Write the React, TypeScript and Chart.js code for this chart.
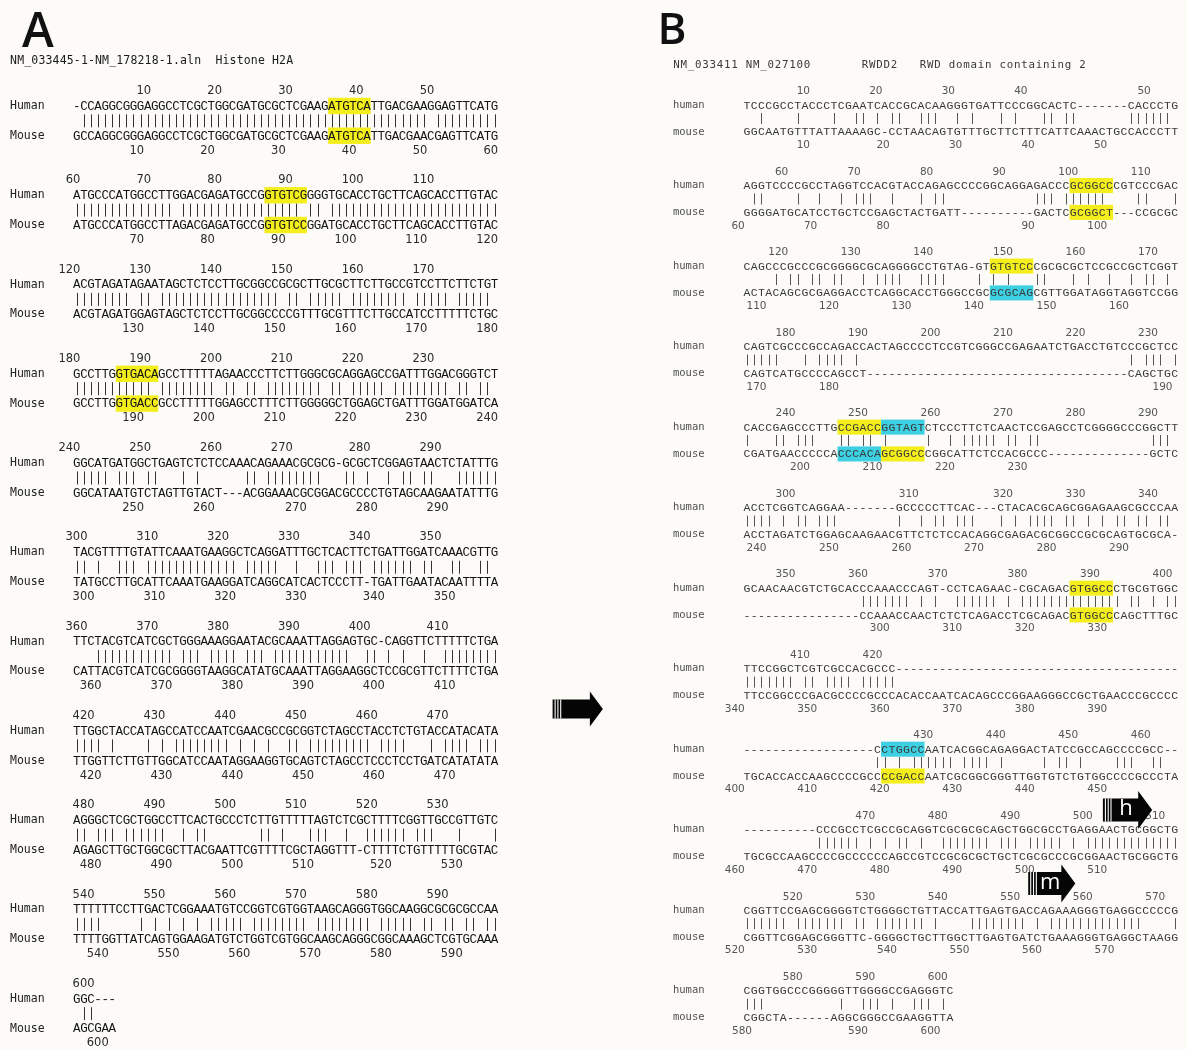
import React, { useEffect, useRef } from "react";
import { Chart, registerables } from "chart.js";

Chart.register(...registerables);

// ---------------- Panel A data ----------------
const letterA = "A";
const titleA = "NM_033445-1-NM_178218-1.aln  Histone H2A";
const namesA = ["Human", "Mouse"];
const humanA = [
  "-CCAGGCGGGAGGCCTCGCTGGCGATGCGCTCGAAGATGTCATTGACGAAGGAGTTCATG",
  "ATGCCCATGGCCTTGGACGAGATGCCGGTGTCGGGGTGCACCTGCTTCAGCACCTTGTAC",
  "ACGTAGATAGAATAGCTCTCCTTGCGGCCGCGCTTGCGCTTCTTGCCGTCCTTCTTCTGT",
  "GCCTTGGTGACAGCCTTTTTAGAACCCTTCTTGGGCGCAGGAGCCGATTTGGACGGGTCT",
  "GGCATGATGGCTGAGTCTCTCCAAACAGAAACGCGCG-GCGCTCGGAGTAACTCTATTTG",
  "TACGTTTTGTATTCAAATGAAGGCTCAGGATTTGCTCACTTCTGATTGGATCAAACGTTG",
  "TTCTACGTCATCGCTGGGAAAGGAATACGCAAATTAGGAGTGC-CAGGTTCTTTTTCTGA",
  "TTGGCTACCATAGCCATCCAATCGAACGCCGCGGTCTAGCCTACCTCTGTACCATACATA",
  "AGGGCTCGCTGGCCTTCACTGCCCTCTTGTTTTTAGTCTCGCTTTTCGGTTGCCGTTGTC",
  "TTTTTTCCTTGACTCGGAAATGTCCGGTCGTGGTAAGCAGGGTGGCAAGGCGCGCGCCAA",
  "GGC---",
];
const mouseA = [
  "GCCAGGCGGGAGGCCTCGCTGGCGATGCGCTCGAAGATGTCATTGACGAACGAGTTCATG",
  "ATGCCCATGGCCTTAGACGAGATGCCGGTGTCCGGATGCACCTGCTTCAGCACCTTGTAC",
  "ACGTAGATGGAGTAGCTCTCCTTGCGGCCCCGTTTGCGTTTCTTGCCATCCTTTTTCTGC",
  "GCCTTGGTGACCGCCTTTTTGGAGCCTTTCTTGGGGGCTGGAGCTGATTTGGATGGATCA",
  "GGCATAATGTCTAGTTGTACT---ACGGAAACGCGGACGCCCCTGTAGCAAGAATATTTG",
  "TATGCCTTGCATTCAAATGAAGGATCAGGCATCACTCCCTT-TGATTGAATACAATTTTA",
  "CATTACGTCATCGCGGGGTAAGGCATATGCAAATTAGGAAGGCTCCGCGTTCTTTTCTGA",
  "TTGGTTCTTGTTGGCATCCAATAGGAAGGTGCAGTCTAGCCTCCCTCCTGATCATATATA",
  "AGAGCTTGCTGGCGCTTACGAATTCGTTTTCGCTAGGTTT-CTTTTCTGTTTTTGCGTAC",
  "TTTTGGTTATCAGTGGAAGATGTCTGGTCGTGGCAAGCAGGGCGGCAAAGCTCGTGCAAA",
  "AGCGAA",
];
// [block, strand (0 human / 1 mouse), first column, length, kind]
const boxesA: [number, number, number, number, string][] = [
  [0, 0, 36, 6, "y"], [0, 1, 36, 6, "y"],
  [1, 0, 27, 6, "y"], [1, 1, 27, 6, "y"],
  [3, 0, 6, 6, "y"], [3, 1, 6, 6, "y"],
];
// [label, from column, to column, line]
const arrowsA: [string, number, number, number][] = [["", 67.7, 74.8, 41.53]];

// ---------------- Panel B data ----------------
const letterB = "B";
const titleB = "NM_033411 NM_027100       RWDD2   RWD domain containing 2";
const namesB = ["human", "mouse"];
const humanB = [
  "TCCCGCCTACCCTCGAATCACCGCACAAGGGTGATTCCCGGCACTC-------CACCCTG",
  "AGGTCCCCGCCTAGGTCCACGTACCAGAGCCCCGGCAGGAGACCCGCGGCCCGTCCCGAC",
  "CAGCCCGCCCGCGGGGCGCAGGGGCCTGTAG-GTGTGTCCCGCGCGCTCCGCCGCTCGGT",
  "CAGTCGCCCGCCAGACCACTAGCCCCTCCGTCGGGCCGAGAATCTGACCTGTCCCGCTCC",
  "CACCGAGCCCTTGCCGACCGGTAGTCTCCCTTCTCAACTCCGAGCCTCGGGGCCCGGCTT",
  "ACCTCGGTCAGGAA-------GCCCCCTTCAC---CTACACGCAGCGGAGAAGCGCCCAA",
  "GCAACAACGTCTGCACCCAAACCCAGT-CCTCAGAAC-CGCAGACGTGGCCCTGCGTGGC",
  "TTCCGGCTCGTCGCCACGCCC" + "----------" + "----------" + "----------" + "---------",
  "------------------" + "C" + "CTGGCC" + "AATCACGGCAGAGGACTATCCGCCAGCCCCGCC" + "--",
  "----------" + "CCCGCCTCGCCGCAGGTCGCGCGCAGCTGGCGCCTGAGGAACTGCGGCTG",
  "CGGTTCCGAGCGGGGTCTGGGGCTGTTACCATTGAGTGACCAGAAAGGGTGAGGCCCCCG",
  "CGGTGGCCCGGGGGTTGGGGCCGAGGGTC",
];
const mouseB = [
  "GGCAATGTTTATTAAAAGC-CCTAACAGTGTTTGCTTCTTTCATTCAAACTGCCACCCTT",
  "GGGGATGCATCCTGCTCCGAGCTACTGATT" + "----------" + "GACTC" + "GCGGCT" + "---" + "CCGCGC",
  "ACTACAGCGCGAGGACCTCAGGCACCTGGGCCGC" + "GCGCAG" + "CGTTGGATAGGTAGGTCCGG",
  "CAGTCATGCCCCAGCCT" + "----------" + "----------" + "----------" + "------" + "CAGCTGC",
  "CGATGAACCCCCA" + "CCCACA" + "GCGGCC" + "CGGCATTCTCCACGCCC" + "--------------" + "GCTC",
  "ACCTAGATCTGGAGCAAGAACGTTCTCTCCACAGGCGAGACGCGGCCGCGCAGTGCGCA-",
  "----------------" + "CCAAACCAACTCTCTCAGACCTCGCAGAC" + "GTGGCC" + "CAGCTTTGC",
  "TTCCGGCCCGACGCCCCGCCCACACCAATCACAGCCCGGAAGGGCCGCTGAACCCGCCCC",
  "TGCACCACCAAGCCCCGCC" + "CCGACC" + "AATCGCGGCGGGTTGGTGTCTGTGGCCCCGCCCTA",
  "TGCGCCAAGCCCCGCCCCCCAGCCGTCCGCGCGCTGCTCGCGCCCGCGGAACTGCGGCTG",
  "CGGTTCGGAGCGGGTTC-GGGGCTGCTTGGCTTGAGTGATCTGAAAGGGTGAGGCTAAGG",
  "CGGCTA------AGGCGGGCCGAAGGTTA",
];
const boxesB: [number, number, number, number, string][] = [
  [1, 0, 45, 6, "y"], [1, 1, 45, 6, "y"],
  [2, 0, 34, 6, "y"], [2, 1, 34, 6, "c"],
  [4, 0, 13, 6, "y"], [4, 0, 19, 6, "c"],
  [4, 1, 13, 6, "c"], [4, 1, 19, 6, "y"],
  [6, 0, 45, 6, "y"], [6, 1, 45, 6, "y"],
  [8, 0, 19, 6, "c"], [8, 1, 19, 6, "y"],
];
const arrowsB: [string, number, number, number][] = [
  ["h", 49.6, 56.4, 53.53],
  ["m", 39.3, 45.8, 59.0],
];

// ---------------- styles ----------------
const BG = "#fcfbf7";
const YELLOW = "#f3ee1c";
const CYAN = "#3dcfe2";

type Panel = {
  letter: string; title: string; names: string[]; human: string[]; mouse: string[];
  boxes: [number, number, number, number, string][]; arrows: [string, number, number, number][];
  xMin: number; xMax: number; yMin: number; yMax: number;
  labelCol: number; letterCol: number; letterLine: number; letterFont: string;
  seqFont: string; seqColor: string; numFont: string; numColor: string; numShift: number;
  nameFont: string; nameColor: string; titleFont: string; titleColor: string;
  barColor: string; barHalf: number; boxHalf: number; bodyH: number; headH: number; headL: number;
};

const panelA: Panel = {
  letter: letterA, title: titleA, names: namesA, human: humanA, mouse: mouseA,
  boxes: boxesA, arrows: arrowsA,
  xMin: -10.353, xMax: 77.218, yMin: -6.122, yMax: 64.375,
  labelCol: -8.94, letterCol: -4.99, letterLine: -3.85, letterFont: "600 48px 'Open Sans'",
  seqFont: "12.5px 'Liberation Mono'", seqColor: "#141414",
  numFont: "11.5px 'DejaVu Sans'", numColor: "#2a2a2a", numShift: 0,
  nameFont: "11.5px 'DejaVu Sans Mono'", nameColor: "#222",
  titleFont: "11.5px 'DejaVu Sans Mono'", titleColor: "#1a1a1a",
  barColor: "#333", barHalf: 6.5, boxHalf: 0.55, bodyH: 19, headH: 35, headL: 13,
};

const panelB: Panel = {
  letter: letterB, title: titleB, names: namesB, human: humanB, mouse: mouseB,
  boxes: boxesB, arrows: arrowsB,
  xMin: -17.007, xMax: 61.2, yMin: -6.826, yMax: 71.341,
  labelCol: -9.7, letterCol: -9.83, letterLine: -4.45, letterFont: "600 44px 'Open Sans'",
  seqFont: "11.5px 'Liberation Mono'", seqColor: "#383838",
  numFont: "10.5px 'DejaVu Sans'", numColor: "#555", numShift: -0.8,
  nameFont: "10.5px 'DejaVu Sans Mono'", nameColor: "#505050",
  titleFont: "10.8px 'DejaVu Sans Mono'", titleColor: "#3a3a3a",
  barColor: "#555", barHalf: 5.5, boxHalf: 0.56, bodyH: 23, headH: 38, headL: 14,
};

function drawPanel(chart: any, P: Panel) {
  const ctx: CanvasRenderingContext2D = chart.ctx;
  const xs = chart.scales.x;
  const ys = chart.scales.y;
  const X = (c: number) => xs.getPixelForValue(c);
  const Y = (l: number) => ys.getPixelForValue(l);
  const pitch = X(1) - X(0);
  ctx.save();
  ctx.textBaseline = "middle";

  // panel letter
  ctx.font = P.letterFont;
  ctx.fillStyle = "#111";
  ctx.textAlign = "center";
  ctx.fillText(P.letter, X(P.letterCol), Y(P.letterLine));

  // title (monospaced pitch)
  ctx.font = P.titleFont;
  ctx.fillStyle = P.titleColor;
  const tx = X(P.labelCol);
  for (let i = 0; i < P.title.length; i++) {
    ctx.fillText(P.title[i], tx + (i + 0.5) * pitch, Y(-2));
  }

  const pos = [0, 0];
  P.human.forEach((hs, k) => {
    const seqs = [hs, P.mouse[k]];
    const base = 6 * k;
    // highlight boxes
    P.boxes.filter((b) => b[0] === k).forEach(([, s, c, n, kind]) => {
      const ln = base + 1 + 2 * s;
      ctx.fillStyle = kind === "y" ? YELLOW : CYAN;
      const y0 = Y(ln - P.boxHalf);
      const y1 = Y(ln + P.boxHalf);
      ctx.fillRect(X(c), y0, X(c + n) - X(c), y1 - y0);
    });
    // names
    ctx.font = P.nameFont;
    ctx.fillStyle = P.nameColor;
    ctx.textAlign = "left";
    ctx.fillText(P.names[0], X(P.labelCol), Y(base + 1));
    ctx.fillText(P.names[1], X(P.labelCol), Y(base + 3));
    // sequences + numbering
    seqs.forEach((seq, s) => {
      const ln = base + 1 + 2 * s;
      const numLine = s === 0 ? base : base + 4;
      ctx.font = P.seqFont;
      ctx.fillStyle = P.seqColor;
      ctx.textAlign = "center";
      for (let c = 0; c < seq.length; c++) {
        ctx.fillText(seq[c], X(c + 0.5), Y(ln) + 0.5);
      }
      ctx.font = P.numFont;
      ctx.fillStyle = P.numColor;
      ctx.textAlign = "right";
      for (let c = 0; c < seq.length; c++) {
        if (seq[c] !== "-") {
          pos[s] += 1;
          if (pos[s] % 10 === 0) {
            ctx.fillText(String(pos[s]), X(c + 1 + P.numShift), Y(numLine));
          }
        }
      }
    });
    // match bars
    ctx.strokeStyle = P.barColor;
    ctx.lineWidth = 1;
    const ml = Y(base + 2);
    const n = Math.min(seqs[0].length, seqs[1].length);
    ctx.beginPath();
    for (let c = 0; c < n; c++) {
      const a = seqs[0][c];
      if (a !== "-" && a === seqs[1][c]) {
        const x = Math.round(X(c + 0.5)) + 0.5;
        ctx.moveTo(x, ml - P.barHalf);
        ctx.lineTo(x, ml + P.barHalf);
      }
    }
    ctx.stroke();
  });

  // arrows
  P.arrows.forEach(([label, c0, c1, ln]) => {
    const x0 = X(c0);
    const x1 = X(c1);
    const yc = Y(ln);
    const bh = P.bodyH / 2;
    const hh = P.headH / 2;
    const hx = x1 - P.headL;
    ctx.fillStyle = "#050505";
    ctx.beginPath();
    ctx.moveTo(x0, yc - bh);
    ctx.lineTo(hx, yc - bh);
    ctx.lineTo(hx, yc - hh);
    ctx.lineTo(x1, yc);
    ctx.lineTo(hx, yc + hh);
    ctx.lineTo(hx, yc + bh);
    ctx.lineTo(x0, yc + bh);
    ctx.closePath();
    ctx.fill();
    ctx.strokeStyle = "#ffffff";
    ctx.lineWidth = 1.1;
    ctx.beginPath();
    [2.5, 5.3, 8.1].forEach((d) => {
      ctx.moveTo(x0 + d, yc - bh);
      ctx.lineTo(x0 + d, yc + bh);
    });
    ctx.stroke();
    if (label) {
      ctx.fillStyle = "#ffffff";
      ctx.font = "500 22px 'Open Sans'";
      ctx.textAlign = "center";
      ctx.fillText(label, (x0 + 9 + hx) / 2 + 1, yc - 1);
    }
  });
  ctx.restore();
}

function PanelChart({ P, left, width }: { P: Panel; left: number; width: number }) {
  const ref = useRef<HTMLCanvasElement | null>(null);
  useEffect(() => {
    if (!ref.current) return;
    const chart = new Chart(ref.current, {
      type: "scatter",
      data: { datasets: [] },
      options: {
        animation: false,
        responsive: false,
        maintainAspectRatio: false,
        devicePixelRatio: 1,
        events: [],
        layout: { padding: 0 },
        plugins: { legend: { display: false }, tooltip: { enabled: false }, title: { display: false } },
        scales: {
          x: { type: "linear", display: false, min: P.xMin, max: P.xMax },
          y: { type: "linear", display: false, reverse: true, min: P.yMin, max: P.yMax },
        },
      },
      plugins: [{ id: "alignment", afterDraw: (c: any) => drawPanel(c, P) }],
    } as any);
    return () => chart.destroy();
  }, [P]);
  return (
    <canvas
      ref={ref}
      width={width}
      height={1049}
      style={{ position: "absolute", left, top: 0, width, height: 1049 }}
    />
  );
}

export default function App() {
  useEffect(() => {
    document.body.style.margin = "0";
    document.body.style.background = BG;
  }, []);
  return (
    <div style={{ position: "relative", width: 1187, height: 1049, background: BG, overflow: "hidden" }}>
      <PanelChart P={panelA} left={0} width={620} />
      <PanelChart P={panelB} left={620} width={567} />
    </div>
  );
}
